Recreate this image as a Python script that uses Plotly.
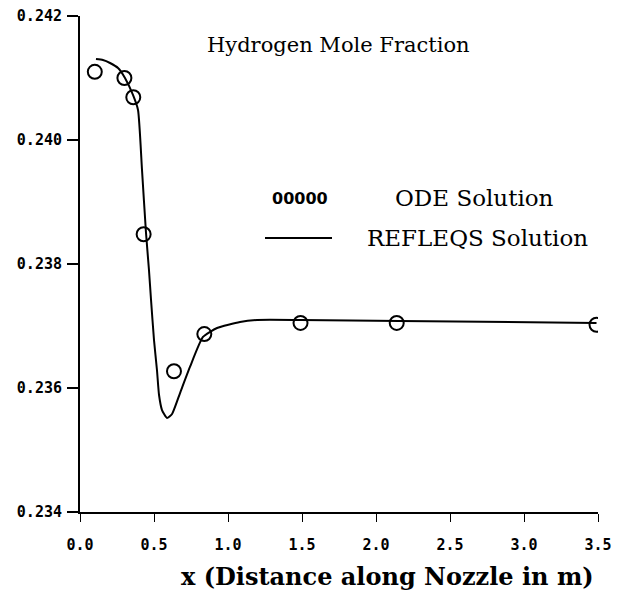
import plotly.graph_objects as go

# ODE solution points
ode_x = [0.10, 0.30, 0.36, 0.43, 0.635, 0.84, 1.49, 2.14, 3.49]
ode_y = [0.24110, 0.24100, 0.24069, 0.23848, 0.23627, 0.23687, 0.23705, 0.23705, 0.23702]

# REFLEQS solution curve
ref_x = [0.108, 0.155, 0.203, 0.257, 0.304, 0.358, 0.392, 0.419, 0.446, 0.466,
         0.480, 0.500, 0.520, 0.534, 0.554, 0.588, 0.622, 0.676, 0.743, 0.831,
         0.926, 1.081, 1.196, 1.486, 2.16, 3.49]
ref_y = [0.241306, 0.241290, 0.241242, 0.241161, 0.241000, 0.240726, 0.240484,
         0.239516, 0.238500, 0.237903, 0.237419, 0.236774, 0.236290, 0.235887,
         0.235645, 0.235516, 0.235581, 0.235919, 0.236339, 0.236823, 0.236968,
         0.237065, 0.237097, 0.237097, 0.237081, 0.237048]

x_ticks = [0.0, 0.5, 1.0, 1.5, 2.0, 2.5, 3.0, 3.5]
y_ticks = [0.234, 0.236, 0.238, 0.240, 0.242]

fig = go.Figure()
fig.add_trace(go.Scatter(x=ref_x, y=ref_y, mode="lines",
                         line=dict(color="black", width=2, shape="spline", smoothing=0.5),
                         showlegend=False, hoverinfo="skip"))
fig.add_trace(go.Scatter(x=ode_x, y=ode_y, mode="markers",
                         marker=dict(symbol="circle-open", size=14, color="black",
                                     line=dict(width=2, color="black")),
                         showlegend=False))

tickfont = dict(family="DejaVu Sans Mono", size=15, color="black", weight="bold")
fig.update_xaxes(range=[0, 3.5], tickvals=x_ticks, ticktext=[f"{v:.1f}" for v in x_ticks],
                 showline=True, linecolor="black", linewidth=2, ticks="outside", ticklen=8,
                 tickwidth=1, tickcolor="black", showgrid=False, zeroline=False, tickfont=tickfont,
                 ticklabelstandoff=10, ticklabeloverflow="allow")
fig.update_yaxes(range=[0.234, 0.242], tickvals=y_ticks, ticktext=[f"{v:.3f}" for v in y_ticks],
                 showline=True, linecolor="black", linewidth=2, ticks="outside", ticklen=11,
                 tickwidth=2, tickcolor="black", showgrid=False, zeroline=False, tickfont=tickfont,
                 ticklabelstandoff=2, ticklabeloverflow="allow")

# page body has an 8px margin; pixel targets are in screenshot coordinates
OFF = 8
L, T, W, H = 80, 16, 518, 496

def px2paper(px, py):
    return (px - L) / W, (T + H - py) / H

ann = []
tx, ty = px2paper(338, 45)
ann.append(dict(x=tx, y=ty, xref="paper", yref="paper", text="Hydrogen Mole Fraction", showarrow=False,
                font=dict(family="DejaVu Serif", size=21, color="black"), xanchor="center", yanchor="middle"))
tx, ty = px2paper(300, 199)
ann.append(dict(x=tx, y=ty, xref="paper", yref="paper", text="00000", showarrow=False,
                font=dict(family="DejaVu Sans", size=16, color="black", weight="bold"),
                xanchor="center", yanchor="middle"))
tx, ty = px2paper(393, 198)
ann.append(dict(x=tx, y=ty, xref="paper", yref="paper", text="ODE Solution", showarrow=False,
                font=dict(family="DejaVu Serif", size=23, color="black"), xanchor="left", yanchor="middle"))
tx, ty = px2paper(365, 238)
ann.append(dict(x=tx, y=ty, xref="paper", yref="paper", text="REFLEQS Solution", showarrow=False,
                font=dict(family="DejaVu Serif", size=23, color="black"), xanchor="left", yanchor="middle"))
tx, ty = px2paper(387, 576)
ann.append(dict(x=tx, y=ty, xref="paper", yref="paper", text="x (Distance along Nozzle in m)", showarrow=False,
                font=dict(family="DejaVu Serif", size=24, color="black", weight="bold"),
                xanchor="center", yanchor="middle"))

lx0, ly = px2paper(265, 238)
lx1, _ = px2paper(332, 238)
fig.add_shape(type="line", xref="paper", yref="paper", x0=lx0, x1=lx1, y0=ly, y1=ly,
              line=dict(color="black", width=2))

figw, figh = 629 - OFF, 593 - OFF
ml, mt = L - OFF, T - OFF
mr = figw - ml - W
mb = figh - mt - H
fig.update_layout(width=figw, height=figh, margin=dict(l=ml, r=mr, t=mt, b=mb, autoexpand=False),
                  plot_bgcolor="white", paper_bgcolor="white", annotations=ann, showlegend=False)

fig.write_html("out.html")
